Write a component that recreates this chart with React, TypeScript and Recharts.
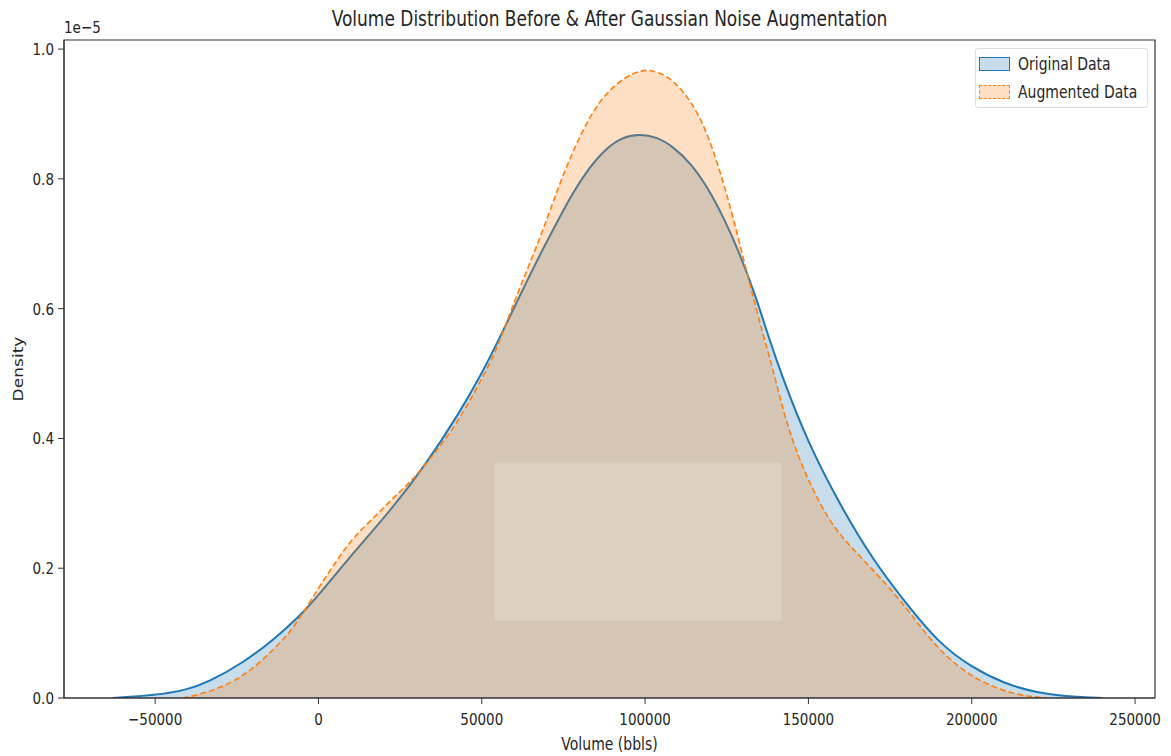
import React from 'react'
import { ComposedChart, Area, XAxis, YAxis, ReferenceArea } from 'recharts'

// KDE curves (density in units of 1e-5)
const originalVolume = [
  -63000, -50000, -40000, -34000, -23000, -13000, -6000, 0, 10000, 23000, 33000, 43000, 50000, 55000,
  63000, 68000, 73000, 78000, 83000, 88000, 93000, 98000, 103500, 108500, 114000, 119000, 124000,
  129000, 134000, 138000, 142000, 149500, 160000, 170000, 180000, 190000, 200000, 210000, 220000,
  230000, 240000,
]
const originalDensity = [
  0, 0.004, 0.013, 0.024, 0.054, 0.093, 0.125, 0.158, 0.22, 0.294, 0.361, 0.438, 0.5, 0.55,
  0.634, 0.685, 0.733, 0.78, 0.818, 0.847, 0.864, 0.869, 0.865, 0.85, 0.824, 0.788, 0.741,
  0.685, 0.617, 0.553, 0.495, 0.397, 0.294, 0.211, 0.145, 0.084, 0.047, 0.022, 0.008,
  0.002, 0,
]

const augmentedVolume = [
  -41500, -34000, -23000, -13000, -7500, 0, 5500, 10500, 18000, 23000, 28000, 33000, 43000, 53500,
  55500, 62500, 68000, 73000, 78000, 83000, 88000, 93500, 98500, 101500, 106500, 111500, 117000,
  122000, 127000, 132000, 136000, 139500, 142500, 146500, 151500, 157500, 165000, 172000, 180000,
  186000, 192500, 200500, 208500, 216000, 223000,
]
const augmentedDensity = [
  0, 0.008, 0.031, 0.078, 0.108, 0.17, 0.211, 0.247, 0.283, 0.309, 0.332, 0.361, 0.425, 0.525,
  0.551, 0.644, 0.71, 0.782, 0.844, 0.896, 0.932, 0.956, 0.967, 0.968, 0.96, 0.937, 0.896,
  0.829, 0.741, 0.638, 0.562, 0.5, 0.438, 0.376, 0.319, 0.263, 0.222, 0.186, 0.139,
  0.098, 0.062, 0.031, 0.013, 0.003, 0,
]

const volumeTicks = [-50000, 0, 50000, 100000, 150000, 200000, 250000]
const densityTicks = [0, 0.2, 0.4, 0.6, 0.8, 1.0]
const volumeDomain = [-77900, 256100]
const densityDomain = [0, 1.014]

const seriesNames = ['Original Data', 'Augmented Data']
const title = 'Volume Distribution Before & After Gaussian Noise Augmentation'

// faded block in the middle of the reference image
const fadedBandX = [54000, 141700]
const fadedBandY = [0.119, 0.363]

const BLUE = '#1f77b4'
const ORANGE = '#ff7f0e'
const INK = '#262626'
const FONT = '"DejaVu Sans", Verdana, sans-serif'
// the reference text is a bit taller than it is wide
const STRETCH = 1.22

const W = 1171
const H = 756

function buildRows() {
  const rows = new Map<number, any>()
  originalVolume.forEach((v, i) => {
    const r = rows.get(v) ?? { volume: v }
    r.original = originalDensity[i]
    rows.set(v, r)
  })
  augmentedVolume.forEach((v, i) => {
    const r = rows.get(v) ?? { volume: v }
    r.augmented = augmentedDensity[i]
    rows.set(v, r)
  })
  return [...rows.values()].sort((a, b) => a.volume - b.volume)
}

const fmtVolume = (v: number) => (v < 0 ? '\u2212' + Math.abs(v) : String(v))

const XTick = ({ x, y, payload }: any) => (
  <g transform={`translate(${x},${y}) scale(1,${STRETCH})`}>
    <text x={0} y={0} dy="0.73em" textAnchor="middle" fontSize={13.5} fill={INK} fontFamily={FONT}>
      {fmtVolume(payload.value)}
    </text>
  </g>
)

const YTick = ({ x, y, payload }: any) => (
  <g transform={`translate(${x},${y}) scale(1,${STRETCH})`}>
    <text x={0} y={0} dy="0.36em" textAnchor="end" fontSize={13.5} fill={INK} fontFamily={FONT}>
      {Number(payload.value).toFixed(1)}
    </text>
  </g>
)

const XTitle = ({ viewBox }: any) => {
  const cx = viewBox.x + viewBox.width / 2
  return (
    <g transform={`translate(${cx},738) scale(1,${STRETCH})`}>
      <text x={0} y={0} dy="0.73em" textAnchor="middle" fontSize={14} fill={INK} fontFamily={FONT}>
        Volume (bbls)
      </text>
    </g>
  )
}

const YTitle = ({ viewBox }: any) => {
  const cy = viewBox.y + viewBox.height / 2
  return (
    <g transform={`translate(18,${cy}) rotate(-90) scale(${STRETCH},1)`}>
      <text x={0} y={0} dy="0.36em" textAnchor="middle" fontSize={14} fill={INK} fontFamily={FONT}>
        Density
      </text>
    </g>
  )
}

export default function App() {
  const data = buildRows()
  const stretched = { display: 'inline-block', transform: `scaleY(${STRETCH})`, transformOrigin: 'center top' }

  return (
    <div style={{ position: 'absolute', left: 0, top: 0, width: W, height: H, background: '#fff', fontFamily: FONT }}>
      <ComposedChart width={W} height={H} data={data} margin={{ top: 40, right: 16, left: 0, bottom: 0 }}>
        <XAxis
          dataKey="volume"
          type="number"
          domain={volumeDomain}
          ticks={volumeTicks}
          allowDataOverflow
          tick={<XTick />}
          tickSize={6}
          tickMargin={9}
          stroke="#333"
          height={58}
          label={<XTitle />}
        />
        <YAxis
          type="number"
          domain={densityDomain}
          ticks={densityTicks}
          allowDataOverflow
          tick={<YTick />}
          tickSize={6}
          tickMargin={4}
          stroke="#333"
          width={64}
          label={<YTitle />}
        />
        <Area
          name={seriesNames[0]}
          dataKey="original"
          type="basis"
          stroke={BLUE}
          strokeWidth={2}
          fill={BLUE}
          fillOpacity={0.25}
          connectNulls
          dot={false}
          activeDot={false}
          isAnimationActive={false}
        />
        <Area
          name={seriesNames[1]}
          dataKey="augmented"
          type="basis"
          stroke={ORANGE}
          strokeWidth={1.6}
          strokeDasharray="6 3"
          fill={ORANGE}
          fillOpacity={0.25}
          connectNulls
          dot={false}
          activeDot={false}
          isAnimationActive={false}
        />
        <ReferenceArea
          x1={fadedBandX[0]}
          x2={fadedBandX[1]}
          y1={fadedBandY[0]}
          y2={fadedBandY[1]}
          fill="#fff"
          fillOpacity={0.19}
          stroke="none"
        />
        <ReferenceArea
          x1={volumeDomain[0]}
          x2={volumeDomain[1]}
          y1={densityDomain[0]}
          y2={densityDomain[1]}
          fill="none"
          stroke="#333"
          strokeWidth={1.2}
        />
      </ComposedChart>

      {/* title */}
      <div style={{ position: 'absolute', left: 64, width: 1091, top: 6, textAlign: 'center', fontSize: 17, color: INK, whiteSpace: 'nowrap' }}>
        <span style={stretched}>{title}</span>
      </div>

      {/* axis offset text */}
      <div style={{ position: 'absolute', left: 64, top: 17, fontSize: 13.5, color: INK }}>
        <span style={stretched}>1e{'\u2212'}5</span>
      </div>

      {/* legend */}
      <div
        style={{
          position: 'absolute',
          left: 975,
          top: 48,
          width: 173,
          height: 60,
          boxSizing: 'border-box',
          border: '1px solid #dcdcdc',
          borderRadius: 3,
          background: 'rgba(255,255,255,0.8)',
          fontSize: 14,
          color: INK,
        }}
      >
        {seriesNames.map((name, i) => (
          <div key={name} style={{ position: 'absolute', left: 3, top: i === 0 ? 7 : 35, display: 'flex', alignItems: 'center', height: 16 }}>
            <span
              style={{
                display: 'inline-block',
                width: 31,
                height: 14,
                boxSizing: 'border-box',
                border: `1.5px ${i === 0 ? 'solid' : 'dashed'} ${i === 0 ? BLUE : ORANGE}`,
                background: i === 0 ? 'rgba(31,119,180,0.25)' : 'rgba(255,127,14,0.25)',
                marginRight: 8,
              }}
            />
            <span style={{ whiteSpace: 'nowrap', display: 'inline-block', transform: `scaleY(${STRETCH})` }}>{name}</span>
          </div>
        ))}
      </div>
    </div>
  )
}
